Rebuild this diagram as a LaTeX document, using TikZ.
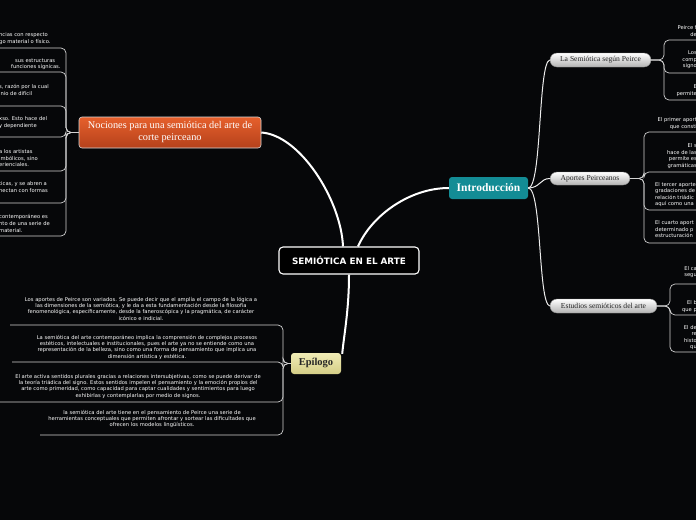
\documentclass[tikz,border=0pt]{standalone}
\usepackage{fontspec}
\setmainfont{Liberation Serif}
\newfontfamily\leaffont{DejaVu Sans}
\usetikzlibrary{positioning,calc}
\definecolor{bgblack}{HTML}{060709}
\definecolor{introteal}{HTML}{138C95}
\definecolor{nocitop}{HTML}{E6602C}
\definecolor{nocibot}{HTML}{B5411B}
\definecolor{epitop}{HTML}{F1EDB6}
\definecolor{epibot}{HTML}{D4CD86}
\definecolor{twiggray}{HTML}{D2D2D2}

\begin{document}
\begin{tikzpicture}[x=1pt,y=-1pt,
  centre/.style={draw=white,line width=1.1pt,fill=black,rounded corners=4pt,minimum width=140pt,minimum height=27pt,inner sep=0pt,text=white,font=\leaffont\bfseries\fontsize{8.8}{10}\selectfont},
  intro/.style={fill=introteal,rounded corners=3pt,minimum width=79pt,minimum height=22pt,inner sep=0pt,text=white,font=\bfseries\fontsize{11.5}{13}\selectfont},
  noci/.style={top color=nocitop,bottom color=nocibot,draw=white!70!gray,line width=0.6pt,rounded corners=3pt,minimum width=182pt,minimum height=31pt,inner sep=0pt,align=center,text=white,font=\fontsize{10.3}{12}\selectfont},
  epi/.style={top color=epitop,bottom color=epibot,rounded corners=3pt,minimum width=50pt,minimum height=21pt,inner sep=0pt,text=black!85,font=\bfseries\fontsize{10.5}{12}\selectfont},
  pill/.style={top color=white,bottom color=black!30,draw=black!45,line width=0.4pt,rounded corners=7pt,minimum height=14pt,inner sep=0pt,text=black!85,font=\fontsize{7.6}{9}\selectfont},
  leaf/.style={inner sep=0pt,text=white,font=\leaffont\fontsize{5.2}{6.6}\selectfont},
  leafR/.style={leaf,align=right,anchor=north east},
  leafL/.style={leaf,align=left,anchor=north west},
  leafB/.style={leaf,align=center,anchor=north,font=\leaffont\fontsize{5.2}{6.3}\selectfont},
  trunk/.style={white,line width=2pt},
  branch/.style={white!85!gray,line width=1pt},
  twig/.style={twiggray,line width=0.7pt,rounded corners=5pt}]
  \fill[bgblack] (0,0) rectangle (696,520);
  \useasboundingbox (0,0) rectangle (696,520);

  % main topics
  \node[centre](cen) at (349,260.5){SEMIÓTICA EN EL ARTE};
  \node[intro](int) at (488.5,188){Introducción};
  \node[noci](noc) at (170,132.5){Nociones para una semiótica del arte de\\corte peirceano};
  \node[epi](epi) at (316,363.5){Epílogo};

  % subtopics
  \node[pill,minimum width=101pt](sp) at (600.5,60){La Semiótica según Peirce};
  \node[pill,minimum width=80pt,minimum height=13pt](ap) at (590,178.5){Aportes Peirceanos};
  \node[pill,minimum width=107pt](es) at (603.5,306){Estudios semióticos del arte};

  \draw[trunk]($(cen.north)+(-6,0)$) .. controls (341,200) and (300,135) .. (noc.east);
  \draw[trunk]($(cen.north)+(9,0)$) .. controls (372,215) and (410,188) .. (int.west);
  \draw[trunk](cen.south) .. controls (349,310) and (344,335) .. ($(epi.north east)+(1,1)$);

  \draw[branch](int.east) .. controls (542,188) and (538,62) .. (sp.west);
  \draw[branch](int.east) .. controls (540,188) and (540,178.5) .. (ap.west);
  \draw[branch](int.east) .. controls (542,188) and (538,304) .. (es.west);

  % leaves: La Semiotica segun Peirce
  \node[leafR](r1) at (697,25.5){Peirce f\\de};
  \node[leafR](r2) at (697,50.5){Los\\comp\\signo};
  \node[leafR](r3) at (697,84.5){E\\permite};
  \foreach \y in {40,73,100}
    \draw[twig](sp.east) -- (664,60) -- (664,\y) -- (697,\y);

  % leaves: Aportes Peirceanos
  \node[leafR](a1) at (697,117.5){El primer aport\\que consti};
  \node[leafR](a2) at (697,143.5){El s\\hace de las\\permite es\\gramáticas};
  \node[leafL](a3) at (655,182){El tercer aporte\\gradaciones de\\relación triádic\\aquí como una};
  \node[leafL](a4) at (655,220.5){El cuarto aport\\determinado p\\estructuración};
  \foreach \y in {132,172,210,243}
    \draw[twig](ap.east) -- (644,178.5) -- (644,\y) -- (697,\y);

  % leaves: Estudios semioticos del arte
  \node[leafR](e1) at (697,266){El ca\\segu};
  \node[leafR](e2) at (697,300.5){El b\\que p};
  \node[leafR](e3) at (697,325){El de\\re\\histo\\qu};
  \foreach \y in {284,315,352}
    \draw[twig](es.east) -- (670,306) -- (670,\y) -- (697,\y);

  % leaves: Nociones
  \node[leafL](n1) at (-1,32.5){ncias con respecto\\go material o físico.};
  \node[leafL](n2) at (-1,58.5){\hspace*{16pt}sus estructuras\\\hspace*{12pt}funciones sígnicas.};
  \node[leafL](n3) at (-1,84.5){s, razón por la cual\\inio de difícil};
  \node[leafL](n4) at (-1,116.5){xso. Esto hace del\\y dependiente};
  \node[leafL](n5) at (-1,149.5){a los artistas\\imbólicos, sino\\erienciales.};
  \node[leafL](n6) at (-1,181.5){ticas, y se abren a\\nectan con formas};
  \node[leafL](n7) at (-1,214.5){contemporáneo es\\nto de una serie de\\material.};
  \foreach \y in {48,72,106,137,171,203,236}
    \draw[twig](noc.west) -- (66,132.5) -- (66,\y) -- (-1,\y);

  % leaves: Epilogo
  \node[leafB](b1) at (141,297){Los aportes de Peirce son variados. Se puede decir que el amplía el campo de la lógica a\\las dimensiones de la semiótica, y le da a esta fundamentación desde la filosofía\\fenomenológica, específicamente, desde la faneroscópica y la pragmática, de carácter\\icónico e indicial.};
  \node[leafB](b2) at (147,335){La semiótica del arte contemporáneo implica la comprensión de complejos procesos\\estéticos, intelectuales e institucionales, pues el arte ya no se entiende como una\\representación de la belleza, sino como una forma de pensamiento que implica una\\dimensión artística y estética.};
  \node[leafB](b3) at (138,374){El arte activa sentidos plurales gracias a relaciones intersubjetivas, como se puede derivar de\\la teoría triádica del signo. Estos sentidos impelen el pensamiento y la emoción propios del\\arte como primeridad, como capacidad para captar cualidades y sentimientos para luego\\exhibirlas y contemplarlas por medio de signos.};
  \node[leafB](b4) at (152,410){la semiótica del arte tiene en el pensamiento de Peirce una serie de\\herramientas conceptuales que permiten afrontar y sortear las dificultades que\\ofrecen los modelos lingüísticos.};
  \draw[twig](epi.west) -- (283,363.5) -- (283,325) -- (10,325);
  \draw[twig](epi.west) -- (283,363.5) -- (283,362) -- (12,362);
  \draw[twig](epi.west) -- (283,363.5) -- (283,402) -- (0,402);
  \draw[twig](epi.west) -- (283,363.5) -- (283,435) -- (40,435);
\end{tikzpicture}
\end{document}
